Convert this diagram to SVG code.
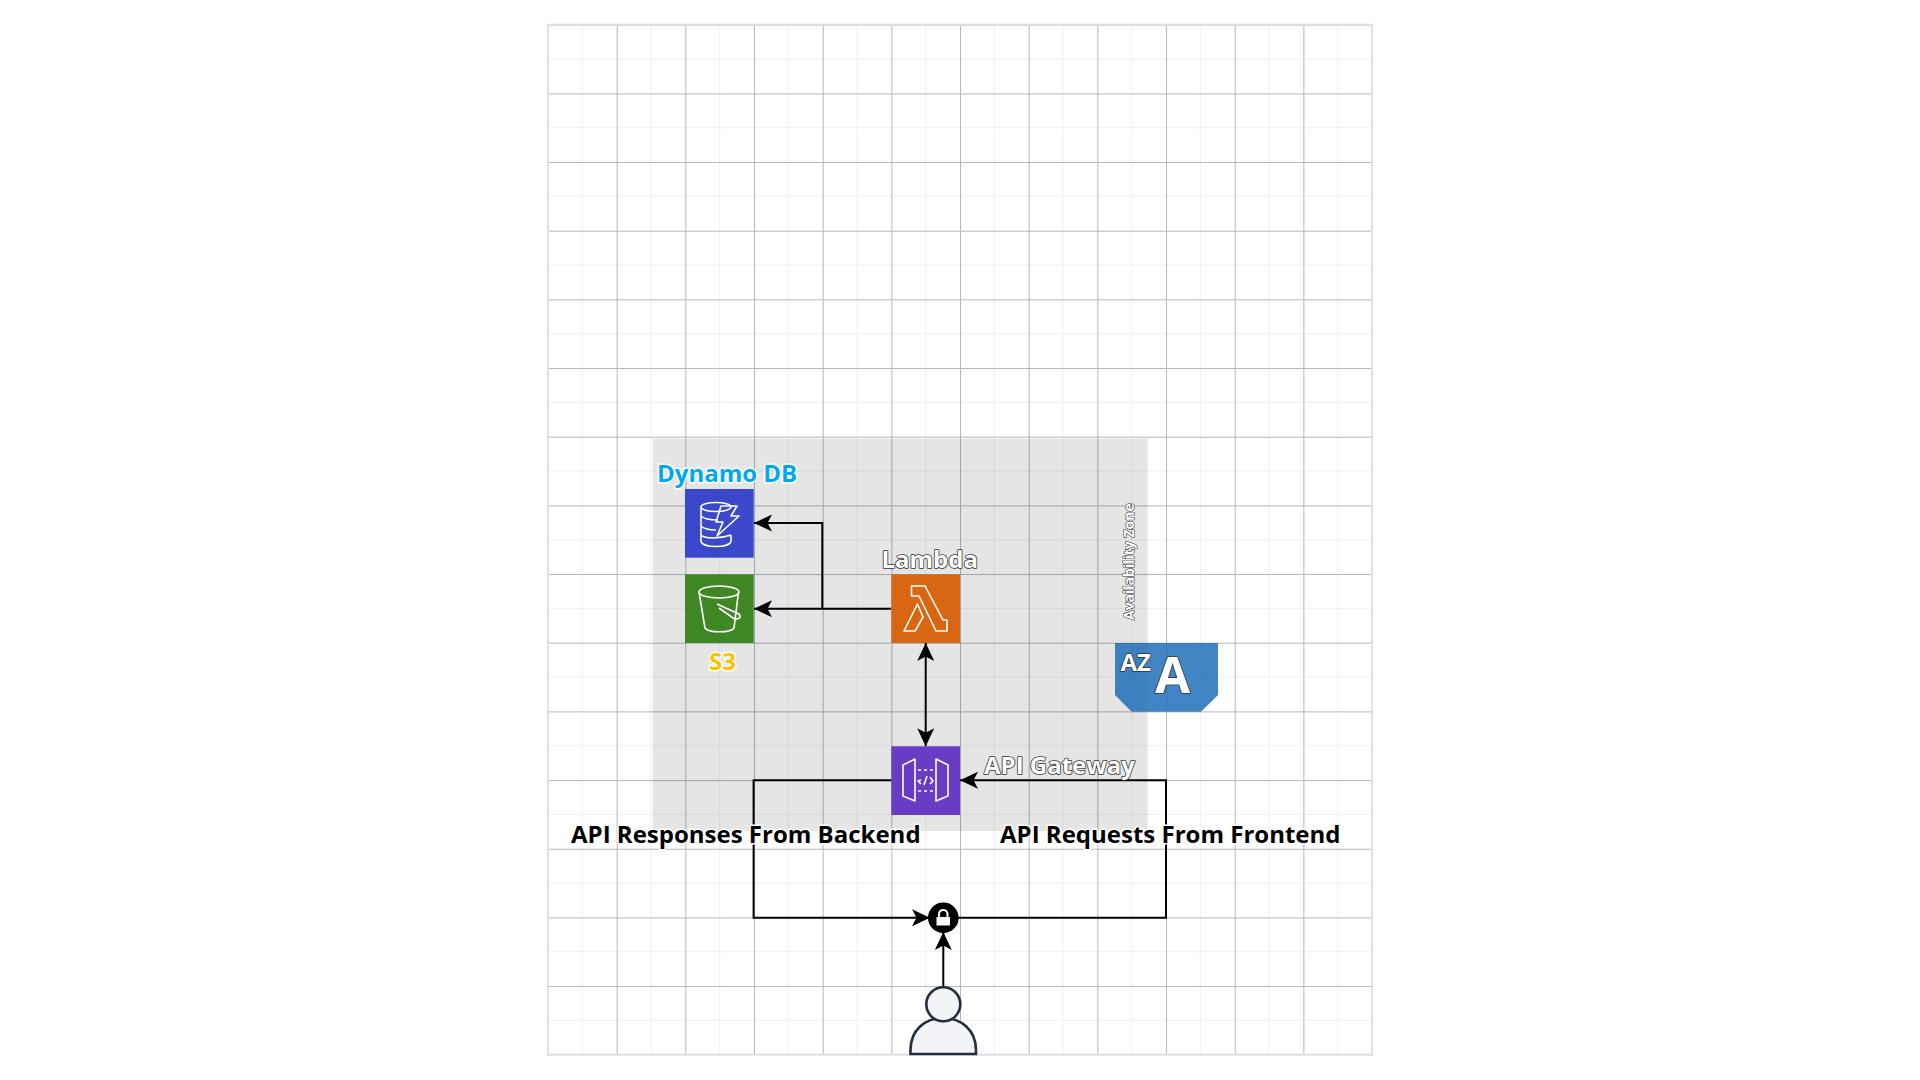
<svg xmlns="http://www.w3.org/2000/svg" width="1920" height="1080" viewBox="0 0 1920 1080">
<defs>
<pattern id="grid" x="548" y="24.7" width="68.67" height="68.67" patternUnits="userSpaceOnUse">
<path d="M34.33 0V68.67M0 34.33H68.67" fill="none" stroke="#e3e6ea" stroke-width="1" opacity=".6"/>
<path d="M0 0V68.67M0 0H68.67" fill="none" stroke="#b0b7c1" stroke-width="2"/>
</pattern>
<marker id="ah" viewBox="0 0 18 18" refX="18" refY="9" markerWidth="18" markerHeight="18" orient="auto-start-reverse" markerUnits="userSpaceOnUse"><path d="M18 9L0 0.5L4.5 9L0 17.5Z" fill="#000"/></marker>
</defs>
<style>
text{font-family:"Open Sans","Noto Sans",sans-serif;font-weight:700;paint-order:stroke;stroke-linejoin:round}
.lab{font-size:24px;fill:#000;stroke:#fff;stroke-width:3px}
.inv{font-size:24px;fill:#fff;stroke:#333;stroke-width:1.6px}
.conn{fill:none;stroke:#000;stroke-width:2}
.ico{fill:none;stroke:#fff;stroke-width:1.6;stroke-linejoin:round}
</style>
<rect width="1920" height="1080" fill="#fff"/>
<g id="canvas-grid">
<rect x="548" y="24.7" width="824" height="1030" fill="url(#grid)"/>
<rect x="548" y="24.7" width="824" height="1030" fill="none" stroke="#dcdfe4" stroke-width="2"/>
</g>
<g id="zone"><rect x="652.7" y="438.7" width="495" height="392.3" fill="#000" opacity=".1"/><text class="inv" transform="translate(1134 620) rotate(-90)" style="font-size:14px;stroke-width:1.2px">Availability Zone</text></g>
<g id="az-badge">
<path d="M1115 643H1218V695L1201 711.7H1131.7L1115 695Z" fill="#1366b6" opacity=".8"/>
<text class="inv" x="1120.5" y="671" style="font-size:24px">AZ</text>
<text class="inv" x="1155" y="693" style="font-size:51px">A</text>
</g>
<g id="connectors">
<path class="conn" d="M891.3 608.7H754" marker-end="url(#ah)"/>
<path class="conn" d="M822.3 608.7V523H754" marker-end="url(#ah)"/>
<path class="conn" d="M925.7 643V746.3" marker-start="url(#ah)" marker-end="url(#ah)"/>
<path class="conn" d="M891.3 780.3H753.6V917.7H930" marker-end="url(#ah)"/>
<path class="conn" d="M943.3 917.7H1166V780.3H960" marker-end="url(#ah)"/>
<path class="conn" d="M943.3 987V932" marker-end="url(#ah)"/>
</g>
<g id="dynamodb">
<rect x="685" y="489" width="68.7" height="68.7" fill="#3b48cc"/>
<g class="ico"><ellipse cx="716" cy="507" rx="15" ry="4.5"/><path d="M701 507V542M731 535V542M701 516C705 520 712 520 718 520M701 526C705 530 712 530 716 530M701 535C705 539 720 539 731 535M701 542C705 548 727 548 731 542"/><path d="M721 506H737L731 516H739L717 536L723 522H716Z"/></g>
<text class="lab" x="657" y="481.7" style="fill:#00a8f0">Dynamo DB</text>
</g>
<g id="s3">
<rect x="685" y="574.3" width="68.7" height="68.7" fill="#3f8624"/>
<g class="ico"><ellipse cx="719" cy="592" rx="20" ry="6"/><path d="M699 592L705 628C708 633 731 633 734 628L738.500 592"/><path d="M717 604L739 614C742 618 738 620 733 618L719 608"/></g>
<text class="lab" x="709" y="670" style="fill:#ffc000">S3</text>
</g>
<g id="lambda">
<rect x="891.300" y="574.3" width="68.7" height="68.7" fill="#d86613"/>
<path class="ico" d="M911.500 586H925L943 620H947V631H936L919 596H911.500ZM904 631L917.500 604L923 617L915 631Z"/>
<text class="inv" x="881.500" y="568">Lambda</text>
</g>
<g id="api-gateway">
<rect x="891.300" y="746.300" width="68.7" height="68.7" fill="#693cc5"/>
<g class="ico"><path d="M903 765L915 759V801L903 796ZM948 765L936 759V801L948 796Z"/><path d="M918 770H933M918 791H933" stroke-dasharray="3 3"/><path d="M921 780L918 781L921 784M930 777L933 781L930 784M927 776L924 785"/></g>
<text class="inv" x="984" y="774">API Gateway</text>
</g>
<text id="label-responses" class="lab" x="571" y="842.700">API Responses From Backend</text>
<text id="label-requests" class="lab" x="1000" y="842.700">API Requests From Frontend</text>
<g id="lock"><circle cx="943.300" cy="917.700" r="15.300" fill="#000"/><path d="M936.500 917H950V925.500H936.500Z" fill="#fff"/><path d="M939 917V914C939 908.500 947.500 908.500 947.500 914V917" fill="none" stroke="#fff" stroke-width="2"/></g>
<g id="user" fill="#f2f4f7" stroke="#232f3e" stroke-width="2.600">
<path d="M910.500 1054V1050C910.500 1030 925 1018 943.300 1018C961 1018 976 1030 976 1050V1054Z"/>
<circle cx="943.300" cy="1004.300" r="17"/>
</g>
</svg>
